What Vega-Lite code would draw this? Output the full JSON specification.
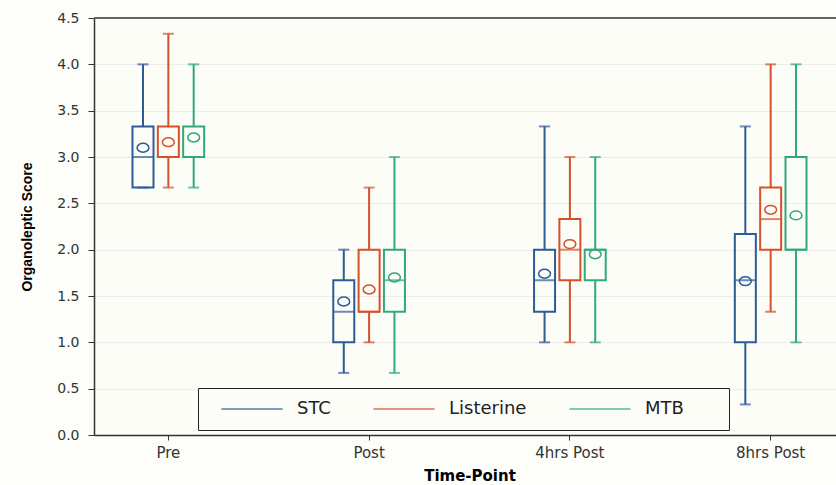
{
  "$schema": "https://vega.github.io/schema/vega-lite/v6.json",
  "autosize": "none",
  "padding": {"left": 94, "top": 18, "right": 0, "bottom": 50},
  "width": 742,
  "height": 417,
  "background": "#fdfdfa",
  "config": {
    "view": {"stroke": null, "fill": "#fdfdf8"},
    "axis": {"domainColor": "#333333", "tickColor": "#333333", "labelColor": "#333333", "titleColor": "#000000", "labelFont": "DejaVu Sans", "titleFont": "DejaVu Sans"}
  },
  "data": {"values": [
    {"time": "Pre", "group": "STC", "min": 2.67, "q1": 2.67, "median": 3.0, "q3": 3.33, "max": 4.0, "mean": 3.10},
    {"time": "Pre", "group": "Listerine", "min": 2.67, "q1": 3.0, "median": 3.0, "q3": 3.33, "max": 4.33, "mean": 3.16},
    {"time": "Pre", "group": "MTB", "min": 2.67, "q1": 3.0, "median": 3.0, "q3": 3.33, "max": 4.0, "mean": 3.21},
    {"time": "Post", "group": "STC", "min": 0.67, "q1": 1.0, "median": 1.33, "q3": 1.67, "max": 2.0, "mean": 1.44},
    {"time": "Post", "group": "Listerine", "min": 1.0, "q1": 1.33, "median": 1.33, "q3": 2.0, "max": 2.67, "mean": 1.57},
    {"time": "Post", "group": "MTB", "min": 0.67, "q1": 1.33, "median": 1.67, "q3": 2.0, "max": 3.0, "mean": 1.70},
    {"time": "4hrs Post", "group": "STC", "min": 1.0, "q1": 1.33, "median": 1.67, "q3": 2.0, "max": 3.33, "mean": 1.74},
    {"time": "4hrs Post", "group": "Listerine", "min": 1.0, "q1": 1.67, "median": 2.0, "q3": 2.33, "max": 3.0, "mean": 2.06},
    {"time": "4hrs Post", "group": "MTB", "min": 1.0, "q1": 1.67, "median": 2.0, "q3": 2.0, "max": 3.0, "mean": 1.95},
    {"time": "8hrs Post", "group": "STC", "min": 0.33, "q1": 1.0, "median": 1.67, "q3": 2.17, "max": 3.33, "mean": 1.66},
    {"time": "8hrs Post", "group": "Listerine", "min": 1.33, "q1": 2.0, "median": 2.33, "q3": 2.67, "max": 4.0, "mean": 2.43},
    {"time": "8hrs Post", "group": "MTB", "min": 1.0, "q1": 2.0, "median": 2.0, "q3": 3.0, "max": 4.0, "mean": 2.37}
  ]},
  "encoding": {
    "x": {"field": "time", "type": "nominal", "sort": ["Pre", "Post", "4hrs Post", "8hrs Post"],
      "scale": {"range": [0, 751], "paddingInner": 0.6215, "paddingOuter": 0.181},
      "axis": {"title": "Time-Point", "labelAngle": 0, "labelFontSize": 15, "titleFontSize": 15, "titleFontWeight": "bold", "tickSize": 5, "labelPadding": 5, "titlePadding": 8, "domainWidth": 1.5, "grid": false}},
    "xOffset": {"field": "group", "type": "nominal", "sort": ["STC", "Listerine", "MTB"], "scale": {"paddingInner": 0, "paddingOuter": 0}},
    "color": {"field": "group", "type": "nominal", "sort": ["STC", "Listerine", "MTB"],
      "scale": {"domain": ["STC", "Listerine", "MTB"], "range": ["#2e5b98", "#d4512b", "#2fa97c"]},
      "legend": {"title": "\u00a0", "titleOrient": "right", "titlePadding": 33, "titleFontSize": 4, "orient": "none", "legendX": 104, "legendY": 370, "direction": "horizontal",
        "symbolType": "M -4.07 0 L 4.07 0", "symbolSize": 225, "symbolStrokeWidth": 2, "symbolOpacity": 0.6, "symbolOffset": 33,
        "labelFont": "DejaVu Sans", "labelFontSize": 18, "labelColor": "#222222", "labelOffset": 36,
        "columnPadding": 31, "padding": 12, "strokeColor": "#222222", "fillColor": "#fdfdf8"}}
  },
  "layer": [
    {"mark": {"type": "rule", "color": "#666666", "strokeWidth": 2}, "encoding": {"x": null, "xOffset": null, "color": null, "y": {"datum": 4.5, "type": "quantitative"}}},
    {"mark": {"type": "rule", "strokeWidth": 2},
      "encoding": {"y": {"field": "min", "type": "quantitative", "scale": {"domain": [0, 4.5], "nice": false},
        "axis": {"title": "Organoleptic Score", "titleFont": "Liberation Sans", "titleFontSize": 14, "titleFontWeight": "bold", "values": [0, 0.5, 1, 1.5, 2, 2.5, 3, 3.5, 4, 4.5], "format": ".1f", "labelFontSize": 14, "tickSize": 6, "labelPadding": 9, "titlePadding": 22, "domainWidth": 1.5, "grid": true, "gridColor": "#ececec"}},
        "y2": {"field": "q1"}}},
    {"mark": {"type": "rule", "strokeWidth": 2}, "encoding": {"y": {"field": "q3", "type": "quantitative"}, "y2": {"field": "max"}}},
    {"mark": {"type": "bar", "filled": false, "strokeWidth": 2, "width": 21}, "encoding": {"y": {"field": "q1", "type": "quantitative"}, "y2": {"field": "q3"}}},
    {"mark": {"type": "tick", "thickness": 2, "size": 21}, "encoding": {"y": {"field": "median", "type": "quantitative"}}},
    {"mark": {"type": "tick", "thickness": 2, "size": 11}, "encoding": {"y": {"field": "min", "type": "quantitative"}}},
    {"mark": {"type": "tick", "thickness": 2, "size": 11}, "encoding": {"y": {"field": "max", "type": "quantitative"}}},
    {"mark": {"type": "point", "filled": false, "strokeWidth": 1.5, "size": 140, "opacity": 1, "shape": "M -1 0 A 1 0.75 0 1 1 1 0 A 1 0.75 0 1 1 -1 0 Z"}, "encoding": {"y": {"field": "mean", "type": "quantitative"}}}
  ]
}
